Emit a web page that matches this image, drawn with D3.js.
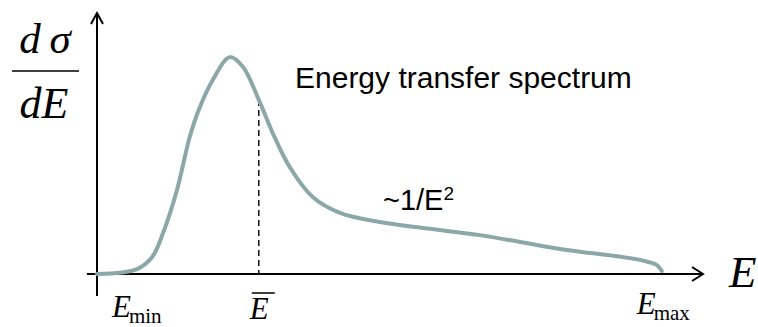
<!DOCTYPE html>
<html>
<head>
<meta charset="utf-8">
<script src="https://cdn.jsdelivr.net/npm/d3@7/dist/d3.min.js"></script>
<style>
  html, body { margin: 0; padding: 0; background: #fff; }
  svg { display: block; }
  .serif { font-family: "Liberation Serif", "Times New Roman", serif; }
  .sans { font-family: "Liberation Sans", Arial, sans-serif; }
</style>
</head>
<body>
<svg id="chart" width="758" height="327"></svg>
<script>
// Energy transfer spectrum dσ/dE versus E (arbitrary units)
const energy = [0, 6.6, 9.1, 10.9, 13.2, 15.3, 16.9, 19.1, 21.9, 24.1, 26.7, 29.0, 31.8, 35.6, 40.1, 46.7, 53.8, 63.2, 76.4, 89.6, 92.4, 93.2];
const crossSection = [0, 1.9, 6.5, 15.7, 32.2, 52.5, 63.5, 74.3, 83.1, 79.3, 66.7, 54.0, 41.0, 29.5, 23.4, 19.9, 17.6, 14.9, 9.6, 5.4, 3.4, 1.1];
const meanEnergyIndex = 10;           // Ē sits on this sample
const eMin = 0, eMax = 93.2;

const svg = d3.select("#chart");

const x = d3.scaleLinear().domain([0, 100]).range([97, 703]);
const y = d3.scaleLinear().domain([0, 100]).range([274, 13]);

// Axes with open arrowheads
const axisColor = "#000";
svg.append("line")
  .attr("x1", 87).attr("y1", y(0)).attr("x2", x(100)).attr("y2", y(0))
  .attr("stroke", axisColor).attr("stroke-width", 2);
svg.append("polyline")
  .attr("points", `${x(100) - 11},${y(0) - 7} ${x(100)},${y(0)} ${x(100) - 11},${y(0) + 7}`)
  .attr("fill", "none").attr("stroke", axisColor).attr("stroke-width", 2)
  .attr("stroke-linejoin", "miter");

svg.append("line")
  .attr("x1", x(0)).attr("y1", 296).attr("x2", x(0)).attr("y2", y(100))
  .attr("stroke", axisColor).attr("stroke-width", 2);
svg.append("polyline")
  .attr("points", `${x(0) - 6},${y(100) + 11} ${x(0)},${y(100)} ${x(0) + 6},${y(100) + 11}`)
  .attr("fill", "none").attr("stroke", axisColor).attr("stroke-width", 2);

// Dashed marker at the mean energy
svg.append("line")
  .attr("x1", x(energy[meanEnergyIndex])).attr("x2", x(energy[meanEnergyIndex]))
  .attr("y1", y(crossSection[meanEnergyIndex])).attr("y2", y(0))
  .attr("stroke", "#000").attr("stroke-width", 1.4)
  .attr("stroke-dasharray", "6,4");

// Spectrum curve
const line = d3.line()
  .x((d, i) => x(energy[i]))
  .y((d, i) => y(crossSection[i]))
  .curve(d3.curveCatmullRom.alpha(0.5));

svg.append("path")
  .datum(energy)
  .attr("d", line)
  .attr("fill", "none")
  .attr("stroke", "#8ca7a8")
  .attr("stroke-width", 4)
  .attr("stroke-linecap", "round")
  .attr("stroke-linejoin", "round");

// y-axis label: dσ / dE
const yl = svg.append("g").attr("class", "serif").attr("font-style", "italic").attr("fill", "#000");
yl.append("text").attr("x", 45).attr("y", 53).attr("text-anchor", "middle")
  .attr("font-size", 43).text("d\u2009σ");
yl.append("line").attr("x1", 12).attr("x2", 79).attr("y1", 71).attr("y2", 71)
  .attr("stroke", "#000").attr("stroke-width", 1.6);
yl.append("text").attr("x", 44).attr("y", 118).attr("text-anchor", "middle")
  .attr("font-size", 44).text("dE");

// x-axis label
svg.append("text").attr("class", "serif").attr("font-style", "italic")
  .attr("x", 729).attr("y", 287).attr("font-size", 45).text("E");

// Emin, Ē, Emax markers
const tickLabel = (xPos, baseline, sub) => {
  const t = svg.append("text").attr("class", "serif").attr("x", xPos).attr("y", baseline);
  t.append("tspan").attr("font-style", "italic").attr("font-size", 31).text("E");
  if (sub) {
    t.append("tspan").attr("font-size", 21).attr("dy", 6).attr("dx", -2).text(sub);
  }
  return t;
};
tickLabel(x(eMin) + 15, 317, "min");
tickLabel(x(energy[meanEnergyIndex]) - 9, 319, null);
svg.append("line")
  .attr("x1", x(energy[meanEnergyIndex]) - 7).attr("x2", x(energy[meanEnergyIndex]) + 16)
  .attr("y1", 293).attr("y2", 293).attr("stroke", "#000").attr("stroke-width", 1.5);
tickLabel(x(eMax) - 25, 314, "max");

// Annotations
svg.append("text").attr("class", "sans").attr("x", 295).attr("y", 88)
  .attr("font-size", 30).attr("fill", "#000").text("Energy transfer spectrum");

const tail = svg.append("text").attr("class", "sans").attr("x", 383).attr("y", 210)
  .attr("font-size", 29).attr("fill", "#000");
tail.append("tspan").text("~1/E");
tail.append("tspan").attr("font-size", 19).attr("dy", -10).text("2");
</script>
</body>
</html>
